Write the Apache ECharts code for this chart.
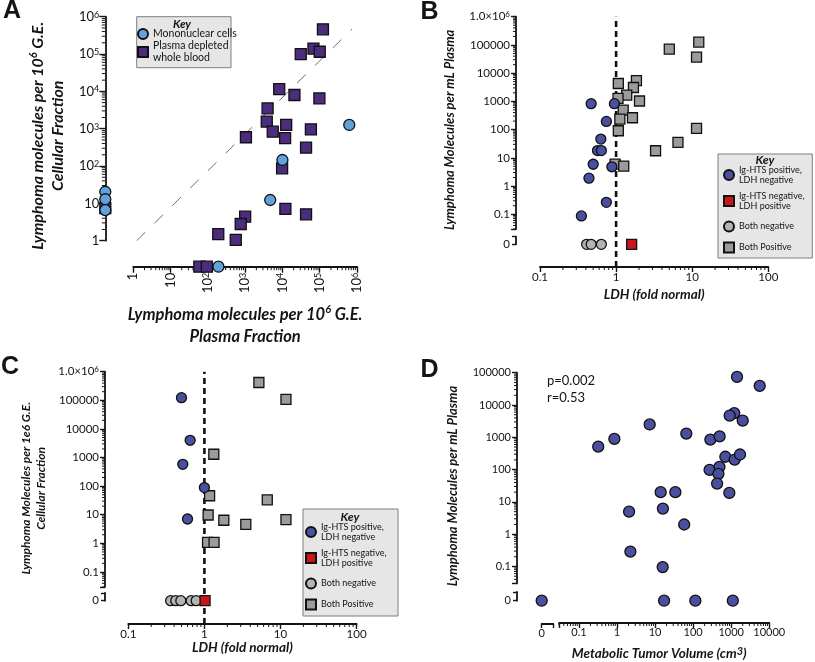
<!DOCTYPE html>
<html><head><meta charset="utf-8">
<script src="https://cdn.jsdelivr.net/npm/echarts@6/dist/echarts.min.js"></script>
<style>html,body{margin:0;padding:0;background:#fff}#c{width:815px;height:662px}</style>
</head><body><div id="c"></div>
<script>
// ===== Panel A: cellular vs plasma fraction (molecules per 1e6 G.E.) =====
const aBloodPts = [[1.22e5,4.6e5],[3.1e4,1.0e5],[6.8e4,1.4e5],[1.0e5,1.15e5],[8.2e3,1.15e4],[2.1e4,8e3],[9.8e4,6.5e3],[4e3,3.5e3],[3.8e3,1.55e3],[5.5e3,830],[1.26e4,1.26e3],[1.18e4,560],[5.8e4,960],[4.3e4,310],[1.05e3,590],[9.8e3,87],[1.2e4,7.1],[4.3e4,5.1],[1.0e3,4.4],[760,2.8],[190,1.5],[560,1.05]];
const aBloodPlasmaZero = [[0,7.5]];
const aBloodCellZero = [[59,0],[94,0]];
const aMonoPts = [[6.2e5,1.26e3],[1.0e4,145],[4.7e3,12.3]];
const aMonoPlasmaZero = [[0,20.5],[0,12.9],[0,6.6]];
const aMonoCellZero = [[192,0]];
const aIdentityLine = [[1.23,1],[7.4e5,4.7e5]];
const aTickLabels = {0:'1',1:'10',2:'10{s|2}',3:'10{s|3}',4:'10{s|4}',5:'10{s|5}',6:'10{s|6}'};

// ===== Panel B: plasma molecules vs LDH =====
const bPosNegPts = [[0.47,830],[0.95,830],[0.745,195],[0.63,46],[0.57,18],[0.64,18],[0.50,5.9],[0.88,4.8],[0.44,1.9],[0.745,0.265],[0.35,0.087]];
const bNegPosZero = [[1.6,0]];
const bBothNegZero = [[0.41,0],[0.47,0],[0.64,0]];
const bBothPosPts = [[12.2,1.26e5],[5.0,7.1e4],[11.4,3.7e4],[1.07,4.3e3],[1.85,5.4e3],[1.69,3.1e3],[1.38,1.67e3],[1.06,1.28e3],[2.03,1.03e3],[1.24,492],[1.12,236],[1.64,263],[1.07,91],[11.4,110],[6.5,35],[3.3,17.8],[0.97,6],[1.26,5.1]];

// ===== Panel C: cellular molecules vs LDH =====
const cPosNegPts = [[0.50,1.24e5],[0.65,4e3],[0.52,580],[1.0,89],[0.60,7.1]];
const cNegPosZero = [[1.02,0]];
const cBothNegZero = [[0.36,0],[0.42,0],[0.49,0],[0.67,0],[0.78,0]];
const cBothPosPts = [[5.2,4.2e5],[11.8,1.08e5],[1.33,1.3e3],[1.17,46],[6.7,33],[1.12,9.8],[1.8,6.4],[3.5,4.6],[11.8,6.7],[1.1,1.08],[1.34,1.08]];

// ===== Panel D: plasma molecules vs metabolic tumor volume =====
const dPts = [[1.42e3,7.4e4],[5.6e3,3.9e4],[1.2e3,5.6e3],[910,4.7e3],[2.0e3,3.3e3],[7.2,2.5e3],[0.85,890],[0.32,515],[66,1.3e3],[283,850],[495,1.07e3],[700,250],[1.23e3,205],[1.7e3,294],[270,98],[490,122],[460,74],[425,37],[890,19],[14,20],[34,20],[2.07,5],[16,6.2],[58,2.0],[2.24,0.29],[15.8,0.096]];
const dYZero = [[17.2,0],[114,0],[1.1e3,0]];
const dBothZero = [[0,0]];

const bcYTickLabels = {6:'1.0×10{s|6}',5:'100000',4:'10000',3:'1000',2:'100',1:'10',0:'1','-1':'0.1'};
const bcXTickLabels = {'-1':'0.1',0:'1',1:'10',2:'100'};
const dYTickLabels = {5:'100000',4:'10000',3:'1000',2:'100',1:'10',0:'1','-1':'0.1'};
const dXTickLabels = {'-1':'0.1',0:'1',1:'10',2:'100',3:'1000',4:'10000'};
const minorMultipliers = [2,3,4,5,6,7,8,9];

const nmPosNeg = 'Ig-HTS positive, LDH negative';
const nmNegPos = 'Ig-HTS negative, LDH positive';
const nmBothNeg = 'Both negative';
const nmBothPos = 'Both Positive';

// ---------------------------------------------------------------
const FONT = 'Lato, "Open Sans", sans-serif';
const INK = '#141414';
const grid = [], xAxis = [], yAxis = [], series = [];
function G(left, top, width, height){ grid.push({left, top, width, height}); return grid.length - 1; }
function k10(v){ const k = Math.log10(v); const r = Math.round(k); return Math.abs(k - r) < 1e-6 ? r : null; }
function fmt(map){ return v => { const k = k10(v); return (k === null || map[k] === undefined) ? '' : map[k]; }; }
const axLine = {show:true, onZero:false, lineStyle:{color:INK, width:1.8}};
function tick(len){ return {show:true, length:len, lineStyle:{color:INK, width:1.4}}; }
function hLog(gi, min, max){ return {type:'log', gridIndex:gi, min, max, show:false}; }
function hVal(gi, min, max){ return {type:'value', gridIndex:gi, min, max, show:false}; }
function lbl(size, map, extra){ return Object.assign({color:INK, fontFamily:FONT, fontSize:size, formatter:fmt(map),
  rich:{s:{fontSize:Math.round(size*0.7), verticalAlign:'top', lineHeight:Math.round(size*0.7), fontFamily:FONT, color:INK}}}, extra||{}); }
function nameStyle(size, lh, pad){ return {color:INK, fontFamily:FONT, fontSize:size, fontWeight:'bold', fontStyle:'italic', lineHeight:lh, padding:pad||0,
  rich:{s:{fontSize:Math.round(size*0.68), verticalAlign:'top', lineHeight:Math.round(size*0.68), fontWeight:'bold', fontStyle:'italic', fontFamily:FONT, color:INK}}}; }
function zeroYAxis(gi, offset, size){ return {type:'value', gridIndex:gi, min:0, max:1, interval:1, offset, axisLine:axLine, axisTick:tick(4),
  splitLine:{show:false}, axisLabel:{color:INK, fontFamily:FONT, fontSize:size, margin:6, formatter:v => v === 0 ? '0' : ''}}; }
function scat(name, data, xi, yi, symbol, color, size){
  series.push({type:'scatter', name, data, xAxisIndex:xi, yAxisIndex:yi, symbol, symbolSize:size||10, clip:false,
    itemStyle:{color, borderColor:'#111', borderWidth:1.3, opacity:1}, emphasis:{disabled:true}, z:3});
}
// log minor ticks (2..9 x 10^k) drawn through the axis scale
function minorValues(min, max){
  const out = [];
  for (let k = Math.floor(Math.log10(min)); k <= Math.ceil(Math.log10(max)); k++)
    minorMultipliers.forEach(m => { const v = m * Math.pow(10, k); if (v >= min * 0.999 && v <= max) out.push(v); });
  return out;
}
function minorTicks(dir, xi, yi, min, max, anchor, offset, len){
  const data = minorValues(min, max).map(v => dir === 'x' ? [v, anchor] : [anchor, v]);
  series.push({type:'custom', data, xAxisIndex:xi, yAxisIndex:yi, silent:true, clip:false, z:2,
    renderItem:(params, api) => {
      const p = api.coord([api.value(0), api.value(1)]);
      const shape = dir === 'x' ? {x1:p[0], y1:p[1]+offset, x2:p[0], y2:p[1]+offset+len}
                                : {x1:p[0]-offset, y1:p[1], x2:p[0]-offset-len, y2:p[1]};
      return {type:'line', shape, style:{stroke:INK, lineWidth:1}};
    }});
}
const BLUE = '#4a509f', RED = '#c8161d', GCIRC = '#b4b4b4', GSQ = '#9b9b9b';
const PURPLE = '#4b2c7d', LBLUE = '#5fa3dc';

// ---------------- Panel A ----------------
const gA = G(133.3, 16.7, 223.7, 224);
xAxis.push({type:'log', gridIndex:gA, min:1, max:1e6, offset:26, axisLine:axLine, axisTick:tick(6),
  splitLine:{show:false}, axisLabel:lbl(13, aTickLabels, {rotate:90, margin:6}),
  name:'Lymphoma molecules per 10{s|6} G.E.\nPlasma Fraction', nameLocation:'middle', nameGap:37, nameTextStyle:nameStyle(16.5, 22)});
const xA = xAxis.length - 1;
yAxis.push({type:'log', gridIndex:gA, min:1, max:1e6, offset:28, axisLine:axLine, axisTick:tick(6),
  splitLine:{show:false}, axisLabel:lbl(13, aTickLabels, {margin:6}),
  name:'Lymphoma molecules per 10{s|6} G.E.\nCellular Fraction', nameLocation:'middle', nameGap:37, nameTextStyle:nameStyle(16, 20, [0,14,0,0])});
const yA = yAxis.length - 1;
const gAc = G(100.3, 16.7, 10, 224);
xAxis.push(hVal(gAc, -1, 1)); const xAc = xAxis.length - 1;
yAxis.push(hLog(gAc, 1, 1e6)); const yAc = yAxis.length - 1;
const gAr = G(133.3, 261.7, 223.7, 10);
xAxis.push(hLog(gAr, 1, 1e6)); const xAr = xAxis.length - 1;
yAxis.push(hVal(gAr, -1, 1)); const yAr = yAxis.length - 1;
minorTicks('x', xA, yA, 1, 1e6, 1, 26, 3.5);
minorTicks('y', xA, yA, 1, 1e6, 1, 28, 3.5);

series.push({type:'line', data:aIdentityLine, xAxisIndex:xA, yAxisIndex:yA, symbol:'none', silent:true, z:1,
  lineStyle:{color:'#6e6e6e', width:1, type:[12,13]}});
const nmBlood = 'Plasma depleted whole blood', nmMono = 'Mononuclear cells';
scat(nmBlood, aBloodPts, xA, yA, 'rect', PURPLE, 11);
scat(nmBlood, aBloodPlasmaZero, xAc, yAc, 'rect', PURPLE, 11);
scat(nmBlood, aBloodCellZero, xAr, yAr, 'rect', PURPLE, 11);
scat(nmMono, aMonoPts, xA, yA, 'circle', LBLUE, 11);
scat(nmMono, aMonoPlasmaZero, xAc, yAc, 'circle', LBLUE, 11);
scat(nmMono, aMonoCellZero, xAr, yAr, 'circle', LBLUE, 11);

// ---------------- Panels B & C (same layout) ----------------
function ldhPanel(left, top, mainH, zeroTop, zeroH, frameH, yOff, yName, yNameSize, yNameLH, yNameGap, yNamePad, xNameGap, posneg, negpos, bothneg, bothpos){
  const gf = G(left, top, 228.3, frameH);
  xAxis.push({type:'log', gridIndex:gf, min:0.1, max:100, axisLine:axLine, axisTick:tick(5), splitLine:{show:false},
    axisLabel:lbl(11.5, bcXTickLabels, {margin:4}), name:'LDH (fold normal)', nameLocation:'middle', nameGap:xNameGap,
    nameTextStyle:{color:INK, fontFamily:FONT, fontSize:13.5, fontStyle:'italic', fontWeight:'bold'}});
  const xf = xAxis.length - 1;
  yAxis.push(hVal(gf, 0, 1)); const yf = yAxis.length - 1;
  const gm = G(left, top, 228.3, mainH);
  xAxis.push(hLog(gm, 0.1, 100)); const xm = xAxis.length - 1;
  yAxis.push({type:'log', gridIndex:gm, min:0.03, max:1e6, offset:yOff, axisLine:axLine, axisTick:tick(5), splitLine:{show:false},
    axisLabel:lbl(11.5, bcYTickLabels, {margin:6}), name:yName, nameLocation:'middle', nameGap:yNameGap,
    nameTextStyle:nameStyle(yNameSize, yNameLH, yNamePad)});
  const ym = yAxis.length - 1;
  const gz = G(left, zeroTop, 228.3, zeroH);
  xAxis.push(hLog(gz, 0.1, 100)); const xz = xAxis.length - 1;
  yAxis.push(zeroYAxis(gz, yOff, 11.5)); const yz = yAxis.length - 1;
  minorTicks('x', xf, yf, 0.1, 100, 0, 0, 3);
  minorTicks('y', xm, ym, 0.03, 1e6, 0.1, yOff, 3);
  series.push({type:'line', data:[[1,0],[1,1]], xAxisIndex:xf, yAxisIndex:yf, symbol:'none', silent:true, z:1,
    lineStyle:{color:'#111', width:2.6, type:[6,4]}});
  scat(nmBothPos, bothpos, xm, ym, 'rect', GSQ, 10);
  scat(nmPosNeg, posneg, xm, ym, 'circle', BLUE, 10);
  scat(nmBothNeg, bothneg, xz, yz, 'circle', GCIRC, 10);
  scat(nmNegPos, negpos, xz, yz, 'rect', RED, 10);
}
ldhPanel(540, 16.7, 212.3, 236.7, 7.6, 250.3, 24, 'Lymphoma Molecules per mL Plasma', 13, 14, 59, [0,14,0,0], 21,
  bPosNegPts, bNegPosZero, bBothNegZero, bBothPosPts);
ldhPanel(128.3, 371.7, 215.2, 593, 7.7, 252.3, 23.3, 'Lymphoma Molecules per 1e6 G.E.\nCellular Fraction', 12, 15, 56, [0,18,0,0], 17,
  cPosNegPts, cNegPosZero, cBothNegZero, cBothPosPts);

// ---------------- Panel D ----------------
const gD = G(559.1, 372.7, 210.2, 211.7);
xAxis.push({type:'log', gridIndex:gD, min:0.03, max:1e4, offset:39.6, axisLine:axLine, axisTick:tick(5), splitLine:{show:false},
  axisLabel:lbl(11, dXTickLabels, {margin:4}), name:'Metabolic Tumor Volume (cm{s|3})', nameLocation:'middle', nameGap:23,
  nameTextStyle:Object.assign(nameStyle(13.5, 15, [0,10,0,0]), {rich:{s:{fontSize:11, verticalAlign:'top', lineHeight:9, fontWeight:'bold', fontStyle:'italic', fontFamily:FONT, color:INK}}})});
const xD = xAxis.length - 1;
yAxis.push({type:'log', gridIndex:gD, min:0.03, max:1e5, offset:42.1, axisLine:axLine, axisTick:tick(5), splitLine:{show:false},
  axisLabel:lbl(11, dYTickLabels, {margin:6}), name:'Lymphoma Molecules per mL Plasma', nameLocation:'middle', nameGap:57,
  nameTextStyle:nameStyle(13, 14, [0,16,0,0])});
const yD = yAxis.length - 1;
const gDz = G(559.1, 592, 210.2, 8.7);
xAxis.push(hLog(gDz, 0.03, 1e4)); const xDz = xAxis.length - 1;
yAxis.push(zeroYAxis(gDz, 42.1, 11)); const yDz = yAxis.length - 1;
const gDc = G(541.7, 372.7, 11.6, 211.7);
xAxis.push({type:'value', gridIndex:gDc, min:0, max:1, interval:1, offset:39.6, axisLine:axLine, axisTick:tick(4), splitLine:{show:false},
  axisLabel:{color:INK, fontFamily:FONT, fontSize:11, margin:4, formatter:v => v === 0 ? '0' : ''}});
const xDc = xAxis.length - 1;
yAxis.push(hLog(gDc, 0.03, 1e5)); const yDc = yAxis.length - 1;
const gDb = G(541.7, 592, 11.6, 8.7);
xAxis.push(hVal(gDb, 0, 1)); const xDb = xAxis.length - 1;
yAxis.push(hVal(gDb, 0, 1)); const yDb = yAxis.length - 1;
minorTicks('x', xD, yD, 0.03, 1e4, 0.03, 39.6, 3);
minorTicks('y', xD, yD, 0.03, 1e5, 0.03, 42.1, 3);
const nmD = 'Patients';
scat(nmD, dPts, xD, yD, 'circle', BLUE, 11);
scat(nmD, dYZero, xDz, yDz, 'circle', BLUE, 11);
scat(nmD, dBothZero, xDb, yDb, 'circle', BLUE, 11);

// ---------------- Legends & annotations ----------------
const legTxt = (size, lh) => ({color:INK, fontFamily:FONT, fontSize:size, lineHeight:lh});
const legendBC = top => ({orient:'vertical', left:723, top, padding:0, itemGap:5, itemWidth:10, itemHeight:10, selectedMode:false,
  textStyle:legTxt(9, 10.5), formatter:n => n.replace(', ', ',\n'),
  data:[{name:nmPosNeg}, {name:nmNegPos}, {name:nmBothNeg, textStyle:{lineHeight:20}}, {name:nmBothPos, textStyle:{lineHeight:12}}]});
const legB = legendBC(164.5);
const legC = Object.assign(legendBC(521.5), {left:305});
const legA = {orient:'vertical', left:137, top:28, padding:0, itemGap:0, itemWidth:10, itemHeight:10, selectedMode:false,
  textStyle:legTxt(10.5, 12), formatter:n => n === nmBlood ? 'Plasma depleted\nwhole blood' : n,
  data:[{name:nmMono}, {name:nmBlood}]};

function txt(x, y, text, size, weight, style, family, align){
  return {type:'text', x, y, z:10, style:{text, fontSize:size, fontWeight:weight||'normal', fontStyle:style||'normal',
    fontFamily:family||FONT, fill:INK, align:align||'center', verticalAlign:'middle', lineHeight:size*1.35}};
}
const boxStyle = {fill:'#e6e6e6', stroke:'#7f7f7f', lineWidth:1};
const graphic = [
  {type:'rect', z:0, shape:{x:136.7, y:16.7, width:94.3, height:51}, style:boxStyle},
  {type:'rect', z:0, shape:{x:718, y:154, width:94.3, height:104}, style:boxStyle},
  {type:'rect', z:0, shape:{x:303, y:509, width:95, height:107}, style:boxStyle},
  txt(182, 24, 'Key', 11.5, 'bold', 'italic'),
  txt(765, 160.5, 'Key', 12, 'bold', 'italic'),
  txt(350, 517, 'Key', 12, 'bold', 'italic'),
  txt(12, 11.5, 'A', 25, 'bold', 'normal', '"Liberation Sans", Arial, sans-serif'),
  txt(429.5, 12.5, 'B', 25, 'bold', 'normal', '"Liberation Sans", Arial, sans-serif'),
  txt(10, 367.5, 'C', 25, 'bold', 'normal', '"Liberation Sans", Arial, sans-serif'),
  txt(429.5, 370, 'D', 25, 'bold', 'normal', '"Liberation Sans", Arial, sans-serif'),
  {type:'text', x:547, y:372, z:10, style:{text:'p=0.002\nr=0.53', fontSize:13, fontFamily:FONT, fill:INK, lineHeight:17.5, align:'left', verticalAlign:'top'}}
];

const chart = echarts.init(document.getElementById('c'), null, {renderer:'canvas'});
chart.setOption({animation:false, backgroundColor:'#fff', grid, xAxis, yAxis, series, legend:[legA, legB, legC], graphic, tooltip:{show:false}});
</script></body></html>
